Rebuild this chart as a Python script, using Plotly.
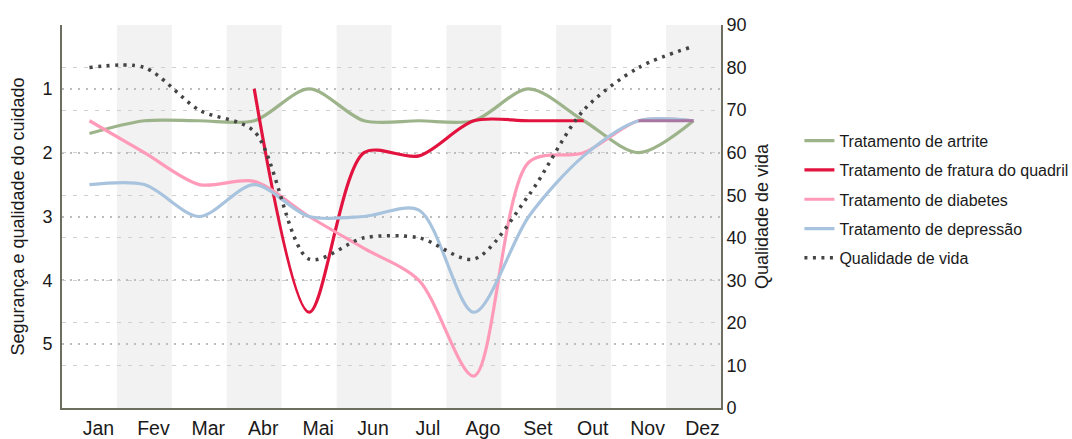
import plotly.graph_objects as go

months = ["Jan", "Fev", "Mar", "Abr", "Mai", "Jun", "Jul", "Ago", "Set", "Out", "Nov", "Dez"]
artrite = [1.7, 1.5, 1.5, 1.5, 1.0, 1.5, 1.5, 1.5, 1.0, 1.5, 2.0, 1.5]
fratura = [None, None, None, 1.0, 4.5, 2.0, 2.05, 1.5, 1.5, 1.5, None, None]
diabetes = [1.5, 2.0, 2.5, 2.45, 3.0, 3.5, 4.0, 5.5, 2.15, 2.0, 1.5, 1.5]
depressao = [2.5, 2.5, 3.0, 2.5, 3.0, 3.0, 2.9, 4.5, 3.0, 2.05, 1.5, 1.5]
qualidade = [80, 80, 70, 65, 35, 40, 40, 35, 50, 70, 80, 85]

left_ticks = [0, 1, 2, 3, 4, 5, 6]
left_text = ["", "1", "2", "3", "4", "5", ""]

FONT = "Liberation Sans, Arial, sans-serif"
c_art = "#9db38a"
c_fra = "#e2143f"
c_dia = "#ff9ab9"
c_dep = "#a8c3de"
c_q = "#444444"
SM = 0.85


def hex2rgb(h):
    h = h.lstrip("#")
    return [int(h[i:i + 2], 16) for i in (0, 2, 4)]


mult = hex2rgb(c_dia)
mult = [round(a * b / 255) for a, b in zip(mult, hex2rgb(c_dep))]
c_mix = "rgb(%d,%d,%d)" % tuple(mult)

fig = go.Figure()

series = [
    ("Tratamento de artrite", artrite, c_art),
    ("Tratamento de fratura do quadril", fratura, c_fra),
    ("Tratamento de diabetes", diabetes, c_dia),
    ("Tratamento de depressão", depressao, c_dep),
]
for name, vals, col in series:
    fig.add_trace(go.Scatter(
        x=months, y=vals, name=name, mode="lines", legendgroup=name,
        line=dict(color=col, width=3.2, shape="spline", smoothing=SM),
        connectgaps=False,
    ))

# overlap segment where diabetes and depression coincide (multiply blend look)
ov = [d if (d == p) else None for d, p in zip(diabetes, depressao)]
ov = [v if v is not None and ((i > 0 and ov[i - 1] is not None) or (i < len(ov) - 1 and ov[i + 1] is not None)) else None
      for i, v in enumerate(ov)]
fig.add_trace(go.Scatter(x=months, y=ov, mode="lines", showlegend=False, hoverinfo="skip",
                         line=dict(color=c_mix, width=3.2), connectgaps=False))

fig.add_trace(go.Scatter(
    x=months, y=qualidade, name="Qualidade de vida", mode="lines", yaxis="y2",
    legendgroup="q",
    line=dict(color=c_q, width=3.5, dash="3px,5.5px", shape="spline", smoothing=SM),
))

shapes = []
for i in range(1, len(months), 2):
    shapes.append(dict(type="rect", xref="x", yref="paper", x0=i - 0.5, x1=i + 0.5, y0=0, y1=1,
                       fillcolor="#f2f2f2", line=dict(width=0), layer="below"))

axis_line = "#6e6e60"
fig.update_layout(
    width=1072, height=439,
    margin=dict(l=62, r=351, t=25, b=31, autoexpand=False),
    plot_bgcolor="rgba(0,0,0,0)", paper_bgcolor="white",
    font=dict(family=FONT, color="#1a1a1a", size=18),
    shapes=shapes,
    showlegend=True,
    legend=dict(x=1.119, xanchor="left", y=0.545, yanchor="middle",
                font=dict(size=16, family=FONT), tracegroupgap=5.5,
                bgcolor="rgba(0,0,0,0)"),
    xaxis=dict(
        type="category", range=[-0.5, 11.5], showgrid=False, showline=True,
        linecolor=axis_line, linewidth=2, ticks="", tickfont=dict(size=19.5),
        ticklabelshift=9, ticklabelstandoff=2, zeroline=False, automargin=False,
    ),
    yaxis=dict(
        range=[6, 0], tickvals=left_ticks, ticktext=left_text, showline=True,
        linecolor=axis_line, linewidth=2, showgrid=True, gridcolor="#bdbdbd",
        gridwidth=2, griddash="2px,6px", zeroline=False, ticks="",
        tickfont=dict(size=18), automargin=False, ticklabelstandoff=4,
        title=dict(text="Segurança e qualidade do cuidado", font=dict(size=18), standoff=13),
    ),
    yaxis2=dict(
        range=[0, 90], dtick=10, overlaying="y", side="right", showline=True,
        linecolor=axis_line, linewidth=2, showgrid=True, gridcolor="#cfcfcf",
        gridwidth=1.3, griddash="4px,7px", zeroline=False, ticks="",
        tickfont=dict(size=18), automargin=False, ticklabelstandoff=0,
        title=dict(text="Qualidade de vida", font=dict(size=18), standoff=10),
    ),
)

fig.write_html("out.html", config={"displayModeBar": False},
               post_script="document.body.style.margin='0';document.body.style.overflow='hidden';")
